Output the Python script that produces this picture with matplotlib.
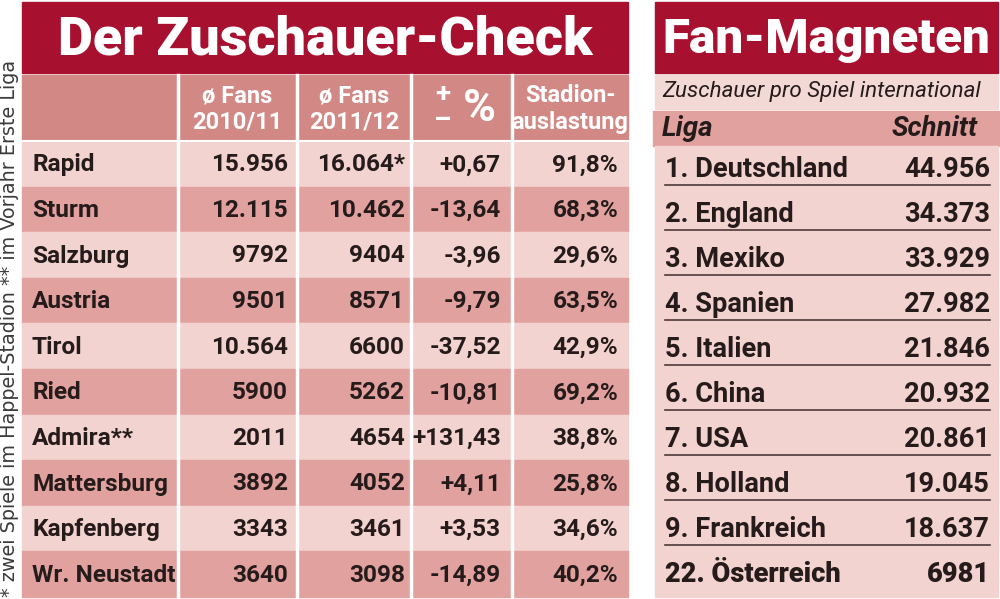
import matplotlib
matplotlib.use("Agg")
import matplotlib.pyplot as plt
from matplotlib.patches import Rectangle

# left table: Der Zuschauer-Check
teams = ["Rapid", "Sturm", "Salzburg", "Austria", "Tirol", "Ried",
         "Admira**", "Mattersburg", "Kapfenberg", "Wr. Neustadt"]
fans_1011 = [15956, 12115, 9792, 9501, 10564, 5900, 2011, 3892, 3343, 3640]
fans_1112 = [16064, 10462, 9404, 8571, 6600, 5262, 4654, 4052, 3461, 3098]
fans_1112_note = ["*", "", "", "", "", "", "", "", "", ""]
change_pct = [0.67, -13.64, -3.96, -9.79, -37.52, -10.81, 131.43, 4.11, 3.53, -14.89]
auslastung = [91.8, 68.3, 29.6, 63.5, 42.9, 69.2, 38.8, 25.8, 34.6, 40.2]

# right table: Fan-Magneten
ranks = [1, 2, 3, 4, 5, 6, 7, 8, 9, 22]
leagues = ["Deutschland", "England", "Mexiko", "Spanien", "Italien",
           "China", "USA", "Holland", "Frankreich", "Österreich"]
schnitt = [44956, 34373, 33929, 27982, 21846, 20932, 20861, 19045, 18637, 6981]

footnote = "* zwei Spiele im Happel-Stadion ** im Vorjahr Erste Liga"

RED = "#a7102f"
HEAD = "#d28985"
DARK = "#e1a29f"
LIGHT = "#f2d3cf"
INK = "#261b1b"
NARROW = ["Roboto", "DejaVu Sans"]


def fmt_int(v):
    # Austrian style: dot only for five-digit numbers
    return f"{v:,}".replace(",", ".") if v >= 10000 else str(v)


def fmt_dec(v, sign=False):
    s = f"{v:+.2f}" if sign else f"{v:.1f}"
    return s.replace(".", ",")


fig = plt.figure(figsize=(10, 5.99), dpi=100)
ax = fig.add_axes([0, 0, 1, 1])
ax.set_xlim(0, 1000)
ax.set_ylim(599, 0)
ax.axis("off")
renderer = fig.canvas.get_renderer()


def fit(t, width):
    w = t.get_window_extent(renderer).width
    t.set_fontsize(t.get_fontsize() * width / w)
    return t.get_fontsize()


# ---- left panel ----
L0, L1 = 22, 628
ax.add_patch(Rectangle((L0, 2), L1 - L0, 71, color=RED))
t = ax.text((L0 + L1) / 2, 40, "Der Zuschauer-Check", color="white", family=NARROW,
            weight="black", fontsize=50, ha="center", va="center")
fit(t, 535)

col_edges = [L0, 178, 297, 411, 512, L1]
row_top, row_h = 141, 45.6
ax.add_patch(Rectangle((L0, 75), L1 - L0, 65, color=HEAD))
for i in range(len(teams)):
    ax.add_patch(Rectangle((L0, row_top + i * row_h), L1 - L0, row_h,
                           color=LIGHT if i % 2 == 0 else DARK))
for x in col_edges[1:-1]:
    ax.plot([x, x], [75, 597], color="white", lw=2.5)
ax.plot([L0, L1], [140.5, 140.5], color="white", lw=1.5)

hdr = dict(color="white", family=NARROW, weight="bold", fontsize=17, ha="center", va="center")
for c, lines in [(1, ("ø Fans", "2010/11")), (2, ("ø Fans", "2011/12")), (4, ("Stadion-", "auslastung"))]:
    cx = (col_edges[c] + col_edges[c + 1]) / 2
    ax.text(cx, 96, lines[0], **hdr)
    ax.text(cx, 122, lines[1], **hdr)
pm = dict(hdr, fontsize=20)
ax.text(443, 94, "+", **pm)
ax.text(443, 121, "–", **pm)
ax.text(479, 109, "%", color="white", family=NARROW, weight="bold", fontsize=32,
        ha="center", va="center")

# common size for the body, set by the longest team name
probe = ax.text(32, 0, teams[-1], family=NARROW, weight="bold", fontsize=20)
body_size = fit(probe, 143)
probe.remove()

cell = dict(color=INK, family=NARROW, weight="bold", fontsize=body_size, va="center")
right_x = [288, 405, 501, 618]
for i in range(len(teams)):
    y = row_top + (i + 0.5) * row_h + 1
    ax.text(32, y, teams[i], ha="left", **cell)
    ax.text(right_x[0], y, fmt_int(fans_1011[i]), ha="right", **cell)
    ax.text(right_x[1], y, fmt_int(fans_1112[i]) + fans_1112_note[i], ha="right", **cell)
    ax.text(right_x[2], y, fmt_dec(change_pct[i], sign=True), ha="right", **cell)
    ax.text(right_x[3], y, fmt_dec(auslastung[i]) + "%", ha="right", **cell)

t = ax.text(10, 597, footnote, rotation=90, color="#3a3a3a", family="DejaVu Sans",
            fontsize=12, ha="center", va="bottom")
h = t.get_window_extent(renderer).height
t.set_fontsize(12 * 535 / h)

# ---- right panel ----
R0, R1 = 655, 998
ax.add_patch(Rectangle((R0, 2), R1 - R0, 71, color=RED))
t = ax.text((R0 + R1) / 2, 40, "Fan-Magneten", color="white", family=NARROW,
            weight="black", fontsize=50, ha="center", va="center")
fit(t, 328)

ax.add_patch(Rectangle((R0, 75), R1 - R0, 34, color="#f3d9d5"))
t = ax.text(662, 91, "Zuschauer pro Spiel international", color=INK, family=NARROW,
            style="italic", fontsize=16, ha="left", va="center")
fit(t, 320)
ax.add_patch(Rectangle((653, 111), R1 - 653 + 2, 35, color=DARK))
ax.text(662, 129, "Liga", color=INK, family=NARROW, weight="bold", style="italic",
        fontsize=20, ha="left", va="center")
ax.text(978, 129, "Schnitt", color=INK, family=NARROW, weight="bold", style="italic",
        fontsize=20, ha="right", va="center")

ax.add_patch(Rectangle((R0, 146), R1 - R0, 451, color=LIGHT))
probe = ax.text(665, 0, f"{ranks[0]}. {leagues[0]}", family=NARROW, weight="bold", fontsize=20)
r_size = fit(probe, 183)
probe.remove()
r_top, r_h = 146, 45
for i in range(len(leagues)):
    y = r_top + (i + 0.5) * r_h + 1
    w = "black" if i == len(leagues) - 1 else "bold"
    ax.text(665, y, f"{ranks[i]}. {leagues[i]}", ha="left", color=INK, family=NARROW,
            weight=w, fontsize=r_size, va="center")
    ax.text(990, y, fmt_int(schnitt[i]), ha="right", color=INK, family=NARROW,
            weight=w, fontsize=r_size, va="center")
    if i < len(leagues) - 1:
        yl = r_top + (i + 1) * r_h - 6
        ax.plot([665, 990], [yl, yl], color="#4e3a3a", lw=1.2)

fig.savefig("out.png", dpi=100)
